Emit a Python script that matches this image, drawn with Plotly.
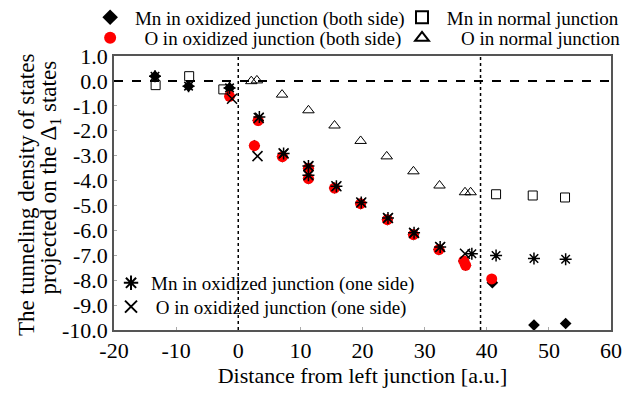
import plotly.graph_objects as go

# ---- data ----
mn_both_x = [-13.4, -8.0, -1.4, 3.2, 2.6, 7.1, 11.3, 11.3, 15.5, 19.7, 24.0, 28.2, 32.3, 36.3, 36.6, 40.9, 47.6, 52.7]
mn_both_y = [0.19, -0.21, -0.28, -1.59, -2.6, -3.04, -3.51, -3.92, -4.3, -4.93, -5.57, -6.17, -6.77, -7.23, -7.4, -8.1, -9.8, -9.74]

o_both_x = [-1.4, 3.2, 2.6, 7.1, 11.3, 11.3, 15.5, 19.7, 24.0, 28.2, 32.3, 36.3, 36.6, 40.8]
o_both_y = [-0.62, -1.59, -2.6, -3.04, -3.51, -3.92, -4.3, -4.93, -5.57, -6.17, -6.77, -7.23, -7.4, -7.95]

mn_norm_x = [-13.3, -7.9, -2.4, 41.5, 47.4, 52.6]
mn_norm_y = [-0.17, 0.19, -0.34, -4.55, -4.6, -4.68]

o_norm_x = [2.1, 3.0, 7.05, 11.3, 15.5, 19.7, 23.9, 28.2, 32.4, 36.5, 37.4]
o_norm_y = [-0.01, 0.02, -0.55, -1.18, -1.79, -2.41, -3.03, -3.63, -4.2, -4.47, -4.47]

mn_one_x = [-13.4, -8.0, -1.4, 3.4, 7.3, 11.3, 11.3, 15.8, 19.8, 24.1, 28.3, 32.5, 37.6, 41.5, 47.6, 52.7]
mn_one_y = [0.19, -0.21, -0.28, -1.45, -2.91, -3.42, -3.79, -4.23, -4.88, -5.5, -6.1, -6.67, -6.94, -7.01, -7.13, -7.16]

o_one_x = [-1.0, 3.3, 3.1, 7.3, 11.3, 11.3, 15.8, 19.8, 24.1, 28.3, 32.5, 36.5]
o_one_y = [-0.72, -1.49, -3.02, -2.91, -3.42, -3.79, -4.23, -4.88, -5.5, -6.1, -6.67, -6.94]

ref_lines_x = [0, 39]
x_ticks = [-20, -10, 0, 10, 20, 30, 40, 50, 60]
y_ticks = [1.0, 0.0, -1.0, -2.0, -3.0, -4.0, -5.0, -6.0, -7.0, -8.0, -9.0, -10.0]

FONT = "Liberation Serif, Times New Roman, serif"
NB = "&nbsp;"

fig = go.Figure()

fig.add_trace(go.Scatter(x=mn_both_x, y=mn_both_y, mode="markers", name=NB + "Mn in oxidized junction (both side)",
                         marker=dict(symbol="diamond", size=9, color="black"), legend="legend", showlegend=True))
fig.add_trace(go.Scatter(x=o_both_x, y=o_both_y, mode="markers", name=NB * 3 + "O in oxidized junction (both side)",
                         marker=dict(symbol="circle", size=11, color="#ff0000"), legend="legend2", showlegend=True))
fig.add_trace(go.Scatter(x=mn_norm_x, y=mn_norm_y, mode="markers", name=NB + "Mn in normal junction",
                         marker=dict(symbol="square-open", size=9, color="black", line=dict(width=1)),
                         legend="legend3", showlegend=True))
fig.add_trace(go.Scatter(x=o_norm_x, y=o_norm_y, mode="markers", name=NB * 4 + "O in normal junction",
                         marker=dict(symbol="triangle-up-open", size=10, color="black", line=dict(width=1)),
                         legend="legend4", showlegend=True))
fig.add_trace(go.Scatter(x=mn_one_x, y=mn_one_y, mode="markers", name="Mn in oxidized junction (one side)",
                         marker=dict(symbol="asterisk-open", size=10, color="black", line=dict(width=1.5, color="black")),
                         legend="legend5", showlegend=True))
fig.add_trace(go.Scatter(x=o_one_x, y=o_one_y, mode="markers", name=NB + "O in oxidized junction (one side)",
                         marker=dict(symbol="x-thin-open", size=10, color="black", line=dict(width=1.5, color="black")),
                         legend="legend6", showlegend=True))

# reference lines
fig.add_hline(y=0, line=dict(color="black", width=2, dash="dash"))
for xv in ref_lines_x:
    fig.add_vline(x=xv, line=dict(color="black", width=1.5, dash="dot"))

legend_common = dict(font=dict(family=FONT, size=19, color="black"), bgcolor="rgba(0,0,0,0)",
                     itemsizing="constant", xanchor="left", yanchor="top")

# two-line y title as rotated annotations
fig.add_annotation(text="The tunneling density of states", textangle=-90, xref="paper", yref="paper",
                   x=-0.175, y=0.493, xanchor="center", yanchor="middle", showarrow=False,
                   font=dict(family=FONT, size=23, color="black"))
fig.add_annotation(text="projected on the Δ<sub>1</sub> states", textangle=-90, xref="paper", yref="paper",
                   x=-0.128, y=0.558, xanchor="center", yanchor="middle", showarrow=False,
                   font=dict(family=FONT, size=23, color="black"))

# the page adds an 8px body margin, so the figure is 8px smaller and offsets are reduced by 8
fig.update_layout(
    width=634, height=388,
    showlegend=True,
    margin=dict(l=106, r=31, t=48, b=66, autoexpand=False),
    paper_bgcolor="white", plot_bgcolor="white",
    font=dict(family=FONT, color="black"),
    legend=dict(x=-0.048, y=1.21, **legend_common),
    legend2=dict(x=-0.048, y=1.135, **legend_common),
    legend3=dict(x=0.5795, y=1.21, **legend_common),
    legend4=dict(x=0.5795, y=1.135, **legend_common),
    legend5=dict(x=-0.006, y=0.241, **legend_common),
    legend6=dict(x=-0.006, y=0.154, **legend_common),
    xaxis=dict(range=[-20, 60], tickvals=x_ticks, ticktext=[str(v) for v in x_ticks],
               showgrid=False, zeroline=False, showline=True, linecolor="#555", linewidth=1.5, mirror=True,
               ticks="inside", ticklen=3, tickcolor="#aaa",
               tickfont=dict(family=FONT, size=22, color="black"),
               title=dict(text="Distance from left junction [a.u.]", font=dict(family=FONT, size=22, color="black"), standoff=4)),
    yaxis=dict(range=[-10, 1], tickvals=y_ticks, ticktext=[f"{v:.1f}" for v in y_ticks],
               showgrid=False, zeroline=False, showline=True, linecolor="#555", linewidth=1.5, mirror=True,
               ticks="inside", ticklen=3, tickcolor="#aaa",
               tickfont=dict(family=FONT, size=22, color="black")),
)

fig.write_html("out.html")
